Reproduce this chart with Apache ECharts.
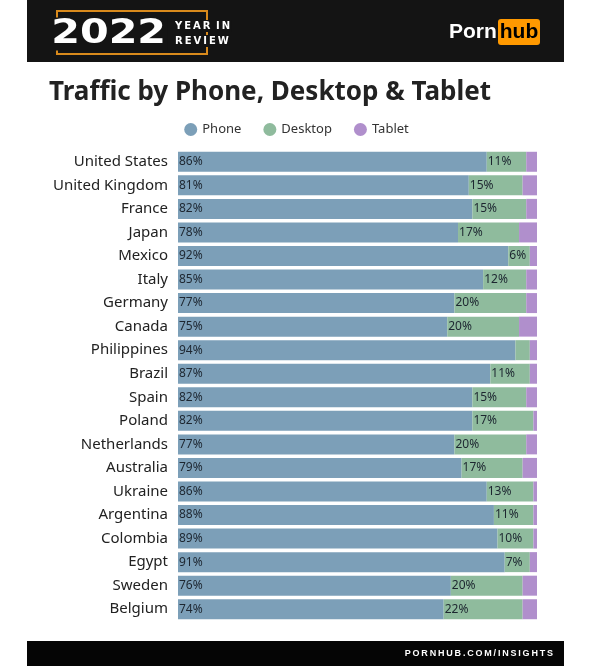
<!DOCTYPE html>
<html><head><meta charset="utf-8">
<script src="https://cdn.jsdelivr.net/npm/echarts@6/dist/echarts.min.js"></script>
<style>html,body{margin:0;padding:0;background:#fff}#c{width:593px;height:668px}</style>
</head><body><div id="c"></div>
<script>
var countries = ["United States","United Kingdom","France","Japan","Mexico","Italy","Germany","Canada","Philippines","Brazil","Spain","Poland","Netherlands","Australia","Ukraine","Argentina","Colombia","Egypt","Sweden","Belgium"];
var phone   = [86,81,82,78,92,85,77,75,94,87,82,82,77,79,86,88,89,91,76,74];
var desktop = [11,15,15,17,6,12,20,20,4,11,15,17,20,17,13,11,10,7,20,22];
var tablet  = [3,4,3,5,2,3,3,5,2,2,3,1,3,4,1,1,1,2,4,4];
var desktopLabelShown = [1,1,1,1,1,1,1,1,0,1,1,1,1,1,1,1,1,1,1,1];

var FONT = "'Noto Sans', sans-serif";
var chart = echarts.init(document.getElementById('c'));
var labelStyle = {fontFamily: FONT, fontSize: 12, color: '#1d2630'};
var TS = '\u2009';
function spaced(s) { return s.split('').join(TS); }
chart.setOption({
  animation: false,
  backgroundColor: '#ffffff',
  title: {
    text: 'Traffic by Phone, Desktop & Tablet',
    left: 49, top: 80, padding: 0,
    textStyle: {fontFamily: FONT, fontSize: 26, fontWeight: 'bold', color: '#222222'}
  },
  legend: {
    top: 118, left: 'center',
    icon: 'circle', itemWidth: 13, itemHeight: 13, itemGap: 22,
    textStyle: {fontFamily: FONT, fontSize: 13, color: '#333333'},
    data: ['Phone','Desktop','Tablet']
  },
  grid: {left: 178, right: 56, top: 150, bottom: 47, containLabel: false},
  xAxis: {type: 'value', min: 0, max: 100, show: false},
  yAxis: {
    type: 'category', data: countries, inverse: true,
    axisLine: {show: false}, axisTick: {show: false},
    axisLabel: {fontFamily: FONT, fontSize: 15, color: '#222222', margin: 10}
  },
  series: [
    {name: 'Phone', type: 'bar', stack: 't', data: phone, barWidth: 20,
     itemStyle: {color: '#7c9fb8'},
     label: Object.assign({show: true, position: 'insideLeft', offset: [-4, 0], formatter: '{c}%'}, labelStyle)},
    {name: 'Desktop', type: 'bar', stack: 't', barWidth: 20,
     data: desktop.map(function (v, i) {
       return {value: v, label: {show: !!desktopLabelShown[i]}};
     }),
     itemStyle: {color: '#8fbb9d'},
     label: Object.assign({show: true, position: 'insideLeft', offset: [-4, 0], formatter: '{c}%'}, labelStyle)},
    {name: 'Tablet', type: 'bar', stack: 't', data: tablet, barWidth: 20,
     itemStyle: {color: '#b08fcc'}}
  ],
  graphic: [
    {type: 'rect', z: 1, shape: {x: 27, y: 0, width: 537, height: 62}, style: {fill: '#141414'}},
    {type: 'rect', z: 2, shape: {x: 57, y: 11, width: 150, height: 43}, style: {fill: 'none', stroke: '#d98a1c', lineWidth: 2}},
    {type: 'text', z: 3, x: 50, y: 34, scaleX: 1.25, style: {text: '2022', fill: '#ffffff', font: '900 33px "DejaVu Sans", sans-serif', verticalAlign: 'middle', backgroundColor: '#141414', padding: [0, 1, 0, 1]}},
    {type: 'text', z: 3, x: 174, y: 26, style: {text: spaced('YEAR') + ' ' + TS + spaced('IN'), fill: '#ffffff', font: 'bold 10px "DejaVu Sans", sans-serif', verticalAlign: 'middle', backgroundColor: '#141414', padding: [1, 1, 1, 1]}},
    {type: 'text', z: 3, x: 174, y: 41, style: {text: spaced('REVIEW'), fill: '#ffffff', font: 'bold 10px "DejaVu Sans", sans-serif', verticalAlign: 'middle', backgroundColor: '#141414', padding: [1, 1, 1, 1]}},
    {type: 'text', z: 3, x: 449, y: 32, style: {text: 'Porn', fill: '#ffffff', font: 'bold 21px "Liberation Sans", Arial, sans-serif', verticalAlign: 'middle'}},
    {type: 'rect', z: 3, shape: {x: 498, y: 19, width: 42, height: 26, r: 3}, style: {fill: '#ff9900'}},
    {type: 'text', z: 4, x: 519, y: 32, style: {text: 'hub', fill: '#000000', font: 'bold 21px "Liberation Sans", Arial, sans-serif', verticalAlign: 'middle', align: 'center'}},
    {type: 'rect', z: 1, shape: {x: 27, y: 641, width: 537, height: 25}, style: {fill: '#050505'}},
    {type: 'text', z: 3, x: 553, y: 654, style: {text: spaced('PORNHUB.COM/INSIGHTS'), fill: '#ffffff', font: 'bold 9px "Liberation Sans", Arial, sans-serif', verticalAlign: 'middle', align: 'right'}}
  ]
});
</script></body></html>
